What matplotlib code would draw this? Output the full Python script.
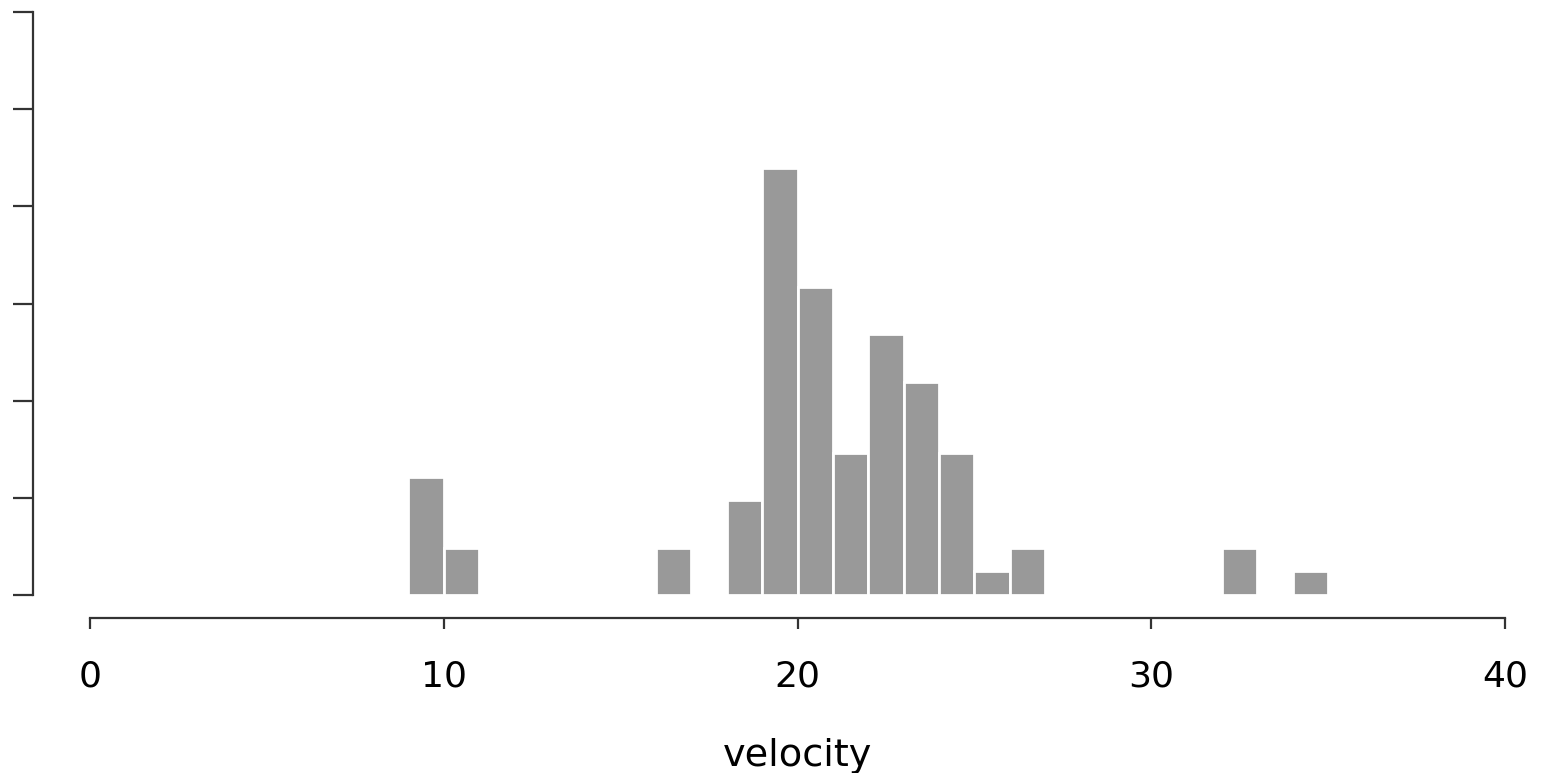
import matplotlib
matplotlib.use("Agg")
import matplotlib.pyplot as plt
import numpy as np

# Histogram data (velocity in 1000 km/s), unit-width bins
bin_left = [9, 10, 16, 18, 19, 20, 21, 22, 23, 24, 25, 26, 32, 34]
counts = [5, 2, 2, 4, 18, 13, 6, 11, 9, 6, 1, 2, 2, 1]
x_ticks = [0, 10, 20, 30, 40]
y_ticks = [0, 0.05, 0.10, 0.15, 0.20, 0.25, 0.30]
x_label = "velocity"

density = np.array(counts) / np.sum(counts)

plt.rcParams['font.family'] = ['DejaVu Sans']
W, H = 1543, 773
fig = plt.figure(figsize=(W / 100, H / 100), dpi=100)
ax = fig.add_axes([90 / W, 1 - 595 / H, (1505 - 90) / W, (595 - 12) / H])

ax.bar(bin_left, density, width=1.0, align='edge', color='#999999',
       edgecolor='white', linewidth=2.0)

ax.set_xlim(0, 40)
ax.set_ylim(0, 0.30)

for s in ['top', 'right']:
    ax.spines[s].set_visible(False)
ax.spines['left'].set_position(('outward', 57 * 0.72))
ax.spines['bottom'].set_position(('outward', 23 * 0.72))
ax.spines['left'].set_bounds(0, 0.30)
ax.spines['bottom'].set_bounds(0, 40)
for s in ['left', 'bottom']:
    ax.spines[s].set_color('#333333')
    ax.spines[s].set_linewidth(1.6)

ax.set_xticks(x_ticks)
ax.set_xticklabels([str(t) for t in x_ticks])
ax.set_yticks(y_ticks)
ax.set_yticklabels([])
ax.tick_params(axis='y', direction='out', length=20 * 0.72, width=1.6, color='#333333')
ax.tick_params(axis='x', direction='out', length=11 * 0.72, width=1.6, color='#333333',
               labelsize=26, pad=22, labelcolor='black')
ax.set_xlabel(x_label, fontsize=27.5, labelpad=32)

fig.savefig("out.png", dpi=100, facecolor='white')
